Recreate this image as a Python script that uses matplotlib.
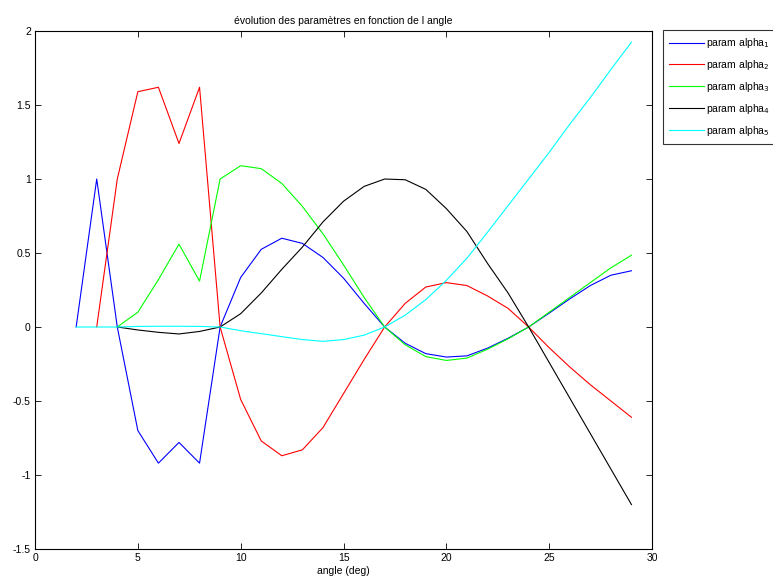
import matplotlib
matplotlib.use('Agg')
import matplotlib.pyplot as plt
import numpy as np

plt.rcParams['font.family'] = ['Liberation Sans', 'DejaVu Sans']

# angles (deg) for each curve
x1 = list(range(2, 30))
x2 = list(range(3, 30))
x3 = list(range(4, 30))
x4 = list(range(4, 30))
x5 = list(range(2, 30))

alpha1 = [0, 1.0, 0, -0.70, -0.92, -0.78, -0.92, 0, 0.335, 0.525, 0.60, 0.565, 0.47, 0.33,
          0.16, 0, -0.11, -0.18, -0.203, -0.195, -0.143, -0.076, 0, 0.094, 0.19, 0.28, 0.35, 0.38]
alpha2 = [0, 1.0, 1.59, 1.62, 1.24, 1.62, 0, -0.49, -0.77, -0.87, -0.83, -0.68, -0.45, -0.22,
          0, 0.16, 0.27, 0.30, 0.28, 0.21, 0.126, 0, -0.14, -0.27, -0.39, -0.50, -0.61]
alpha3 = [0, 0.10, 0.32, 0.56, 0.31, 1.0, 1.09, 1.07, 0.97, 0.815, 0.63, 0.42, 0.20, 0,
          -0.12, -0.20, -0.226, -0.21, -0.15, -0.08, 0, 0.10, 0.20, 0.30, 0.40, 0.485]
alpha4 = [0, -0.02, -0.036, -0.047, -0.03, 0, 0.09, 0.23, 0.39, 0.54, 0.71, 0.85, 0.95, 1.0,
          0.995, 0.93, 0.80, 0.645, 0.43, 0.23, 0, -0.24, -0.48, -0.72, -0.96, -1.2]
alpha5 = [0, 0, 0, 0.004, 0.005, 0.005, 0.004, 0, -0.025, -0.045, -0.065, -0.085, -0.097,
          -0.085, -0.055, 0, 0.08, 0.185, 0.315, 0.465, 0.64, 0.82, 1.0, 1.18, 1.37, 1.55, 1.74, 1.925]

labels = ['param alpha$_1$', 'param alpha$_2$', 'param alpha$_3$', 'param alpha$_4$', 'param alpha$_5$']
colors = ['#0000ff', '#ff0000', '#00ff00', '#000000', '#00ffff']

fig = plt.figure(figsize=(7.73, 5.81), dpi=100)
ax = fig.add_axes([0.0453, 0.0551, 0.7982, 0.8915])

for xs, ys, lab, c in zip([x1, x2, x3, x4, x5], [alpha1, alpha2, alpha3, alpha4, alpha5], labels, colors):
    ax.plot(xs, ys, color=c, lw=0.8, label=lab)

ax.set_xlim(0, 30)
ax.set_ylim(-1.5, 2)
ax.set_xticks(np.arange(0, 31, 5))
ax.set_yticks(np.arange(-1.5, 2.01, 0.5))
ax.set_yticklabels(['-1.5', '-1', '-0.5', '0', '0.5', '1', '1.5', '2'])
ax.tick_params(direction='in', top=True, right=True, labelsize=7.5, length=4, width=0.6, pad=3)
for s in ax.spines.values():
    s.set_linewidth(0.8)

ax.set_title("évolution des paramètres en fonction de l angle", fontsize=7.5, pad=5)
ax.set_xlabel('angle (deg)', fontsize=7.5, labelpad=2)

leg = ax.legend(loc='upper left', bbox_to_anchor=(663 / 773, 1 - 30 / 581), bbox_transform=fig.transFigure,
                fontsize=7.5, frameon=True, fancybox=False, handlelength=3.3, borderaxespad=0,
                labelspacing=0.75, handletextpad=0.25, borderpad=0.6)
leg.get_frame().set_edgecolor('black')
leg.get_frame().set_linewidth(0.8)

fig.savefig('out.png', dpi=100)
